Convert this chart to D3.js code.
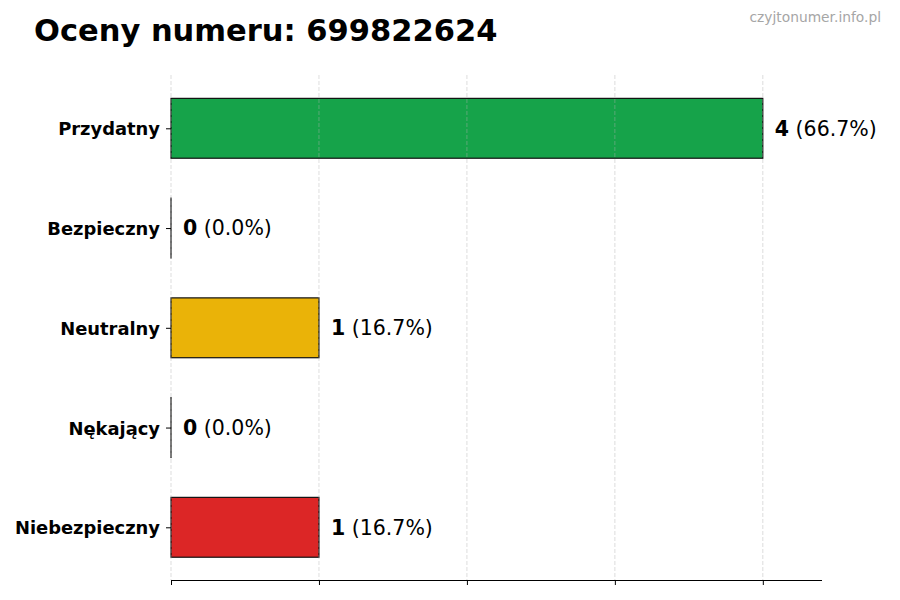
<!DOCTYPE html>
<html>
<head>
<meta charset="utf-8">
<script src="https://cdn.jsdelivr.net/npm/d3@7"></script>
<style>
  body { margin: 0; background: #fff; }
  svg { font-family: "DejaVu Sans", sans-serif; }
</style>
</head>
<body>
<div id="chart"></div>
<script>
var categories = ['Przydatny', 'Bezpieczny', 'Neutralny', 'Nękający', 'Niebezpieczny']
var counts = [4, 0, 1, 0, 1]
var percents = ['66.7%', '0.0%', '16.7%', '0.0%', '16.7%']
var colors = ['#16a34a', '#2563eb', '#eab308', '#f97316', '#dc2626']
var xTicks = [0, 1, 2, 3, 4]

var svg_width = 900,
    svg_height = 600,
    plot = { left: 171, right: 822, top: 75, bottom: 580 }

var svg = d3.select('#chart')
    .append('svg')
    .attr('width', svg_width)
    .attr('height', svg_height)

var xScale = d3.scaleLinear()
    .domain([0, 4.4])
    .range([plot.left, plot.right])

var yScale = d3.scalePoint()
    .domain(categories)
    .range([128.3, 527.3])

var barH = yScale.step() * 0.6

// bars (zero-width ones still show their edge)
svg.append('g')
    .selectAll('rect')
    .data(categories)
    .enter()
    .append('rect')
    .attr('x', xScale(0))
    .attr('y', d => yScale(d) - barH / 2)
    .attr('width', (d, i) => Math.max(0.01, xScale(counts[i]) - xScale(0)))
    .attr('height', barH)
    .style('fill', (d, i) => colors[i])
    .style('stroke', '#111')
    .style('stroke-width', 1.2)

// grid, drawn over bars, faint
svg.append('g')
    .selectAll('line')
    .data(xTicks)
    .enter()
    .append('line')
    .attr('x1', d => xScale(d))
    .attr('x2', d => xScale(d))
    .attr('y1', plot.top)
    .attr('y2', plot.bottom)
    .style('stroke', '#b0b0b0')
    .style('stroke-opacity', 0.55)
    .style('stroke-dasharray', '4,2')
    .style('stroke-width', 0.8)

// x axis (no labels)
var xAxis = d3.axisBottom(xScale)
    .tickValues(xTicks)
    .tickSize(5)
    .tickFormat('')
    .tickSizeOuter(0)

var gx = svg.append('g')
    .attr('transform', `translate(0, ${plot.bottom})`)
    .call(xAxis)
gx.select('.domain').attr('d', `M${plot.left},0.5H${plot.right}`).style('stroke', '#000').style('stroke-width', 1.1)
gx.selectAll('.tick line').style('stroke', '#000').style('stroke-width', 1)

// y axis labels
var yAxis = d3.axisLeft(yScale)
    .tickSize(5)
    .tickPadding(6)
    .tickSizeOuter(0)

var gy = svg.append('g')
    .attr('transform', `translate(${plot.left}, 0)`)
    .call(yAxis)
gy.select('.domain').remove()
gy.selectAll('.tick line').style('stroke', '#000')
gy.selectAll('.tick text')
    .style('font-family', '"DejaVu Sans", sans-serif')
    .style('font-size', '17.9px')
    .style('font-weight', 'bold')
    .style('fill', '#000')
    .attr('dy', '0.36em')

// value labels
var vt = svg.append('g')
    .selectAll('text')
    .data(categories)
    .enter()
    .append('text')
    .attr('x', (d, i) => xScale(counts[i]) + 12)
    .attr('y', d => yScale(d))
    .attr('dy', '0.36em')
    .style('font-size', '20.5px')
    .style('fill', '#000')

vt.append('tspan')
    .style('font-weight', 'bold')
    .text((d, i) => counts[i])
vt.append('tspan')
    .text((d, i) => ' (' + percents[i] + ')')

// title
svg.append('text')
    .attr('x', 34)
    .attr('y', 41)
    .style('font-size', '30.5px')
    .style('font-weight', 'bold')
    .style('fill', '#000')
    .text('Oceny numeru: 699822624')

svg.append('text')
    .attr('x', 881)
    .attr('y', 22)
    .attr('text-anchor', 'end')
    .style('font-size', '13.8px')
    .style('fill', '#a6a6a6')
    .text('czyjtonumer.info.pl')
</script>
</body>
</html>
